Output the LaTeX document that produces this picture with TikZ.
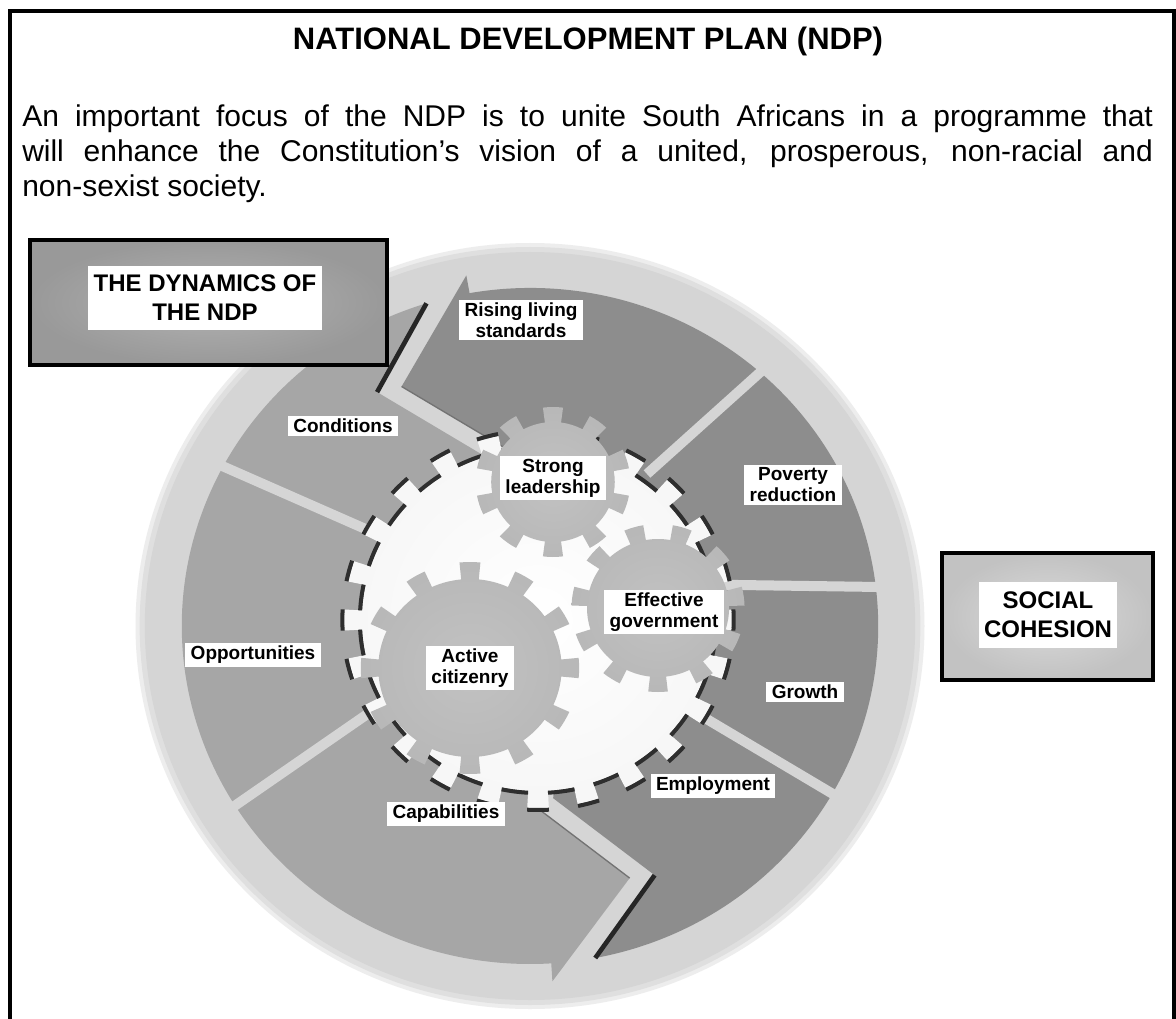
\documentclass[tikz,border=0pt]{standalone}
\usepackage{fontspec}
\setmainfont{Liberation Sans}
\definecolor{diskc}{HTML}{D5D5D5}
\definecolor{diskedge}{HTML}{DFDFDF}
\definecolor{diskglow}{HTML}{EDEDED}
\definecolor{darkseg}{HTML}{8D8D8D}
\definecolor{lightseg}{HTML}{A6A6A6}
\definecolor{shadowc}{HTML}{2E2E2E}
\pgfdeclareradialshading{bigshade}{\pgfpoint{0bp}{0bp}}{color(0bp)=(white); color(30bp)=(black!4); color(50bp)=(black!15)}
\pgfdeclareradialshading{smallshade}{\pgfpoint{0bp}{0bp}}{color(0bp)=(black!24); color(50bp)=(black!32)}
\newcommand{\gearpath}[5]{% root, tip, teeth, phase, half tooth angle
  ({#4-#5}:#1)
  \foreach \k in {1,...,#3}{
    -- ({#4+(\k-1)*360/#3-#5}:#2)
    arc[start angle={#4+(\k-1)*360/#3-#5}, end angle={#4+(\k-1)*360/#3+#5}, radius=#2]
    -- ({#4+(\k-1)*360/#3+#5}:#1)
    arc[start angle={#4+(\k-1)*360/#3+#5}, end angle={#4+\k*360/#3-#5}, radius=#1]
  } -- cycle}
\tikzset{
  para/.style={font=\fontsize{22.5pt}{27pt}\selectfont, inner sep=0pt, anchor=base west},
  seglabel/.style={fill=white, inner xsep=4pt, inner ysep=2pt, align=center,
    font=\fontsize{14.25pt}{15.75pt}\selectfont\bfseries},
  boxlabel/.style={fill=white, align=center, inner sep=0pt,
    font=\fontsize{18pt}{21.75pt}\selectfont\bfseries},
  sepline/.style={draw=diskc, line width=7.5pt},
  gshadow/.style={draw=shadowc, line width=3pt},
  notchshadow/.style={draw=black!85, line width=3.5pt},
  thinedge/.style={draw=black!55, line width=1pt},
  framebox/.style={draw=black, line width=3pt},
}
\begin{document}
\begin{tikzpicture}[x=0.75pt,y=-0.75pt]
\useasboundingbox (0,0) rectangle (1176,1019);
\fill[white] (0,0) rectangle (1176,1019);

% page frame
\draw[line width=3pt] (10,1019) -- (10,11) -- (1174,11) -- (1174,1019);

% heading and paragraph
\node[font=\fontsize{23.25pt}{28pt}\selectfont\bfseries, anchor=base, inner sep=0pt] (title) at (588,50) {NATIONAL DEVELOPMENT PLAN (NDP)};
\node[para] (p1) at (22,127) {\makebox[848pt][s]{An important focus of the NDP is to unite South Africans in a programme that}};
\node[para] (p2) at (22,162) {\makebox[848pt][s]{will enhance the Constitution's vision of a united, prosperous, non-racial and}};
\node[para] (p3) at (22,197) {non-sexist society.};

% ---------------- wheel ----------------
\def\tb{100}
\def\sb{-86.5}
\def\Rout{338}
\begin{scope}[shift={(530,626)}, xscale=1.03, yscale=-1]
  \fill[diskglow] (0,0) circle[radius=383];
  \fill[diskedge] (0,0) circle[radius=379];
  \fill[diskc] (0,0) circle[radius=374];
  % chevron points (top: dark head / Conditions notch; bottom: Capabilities head / Employment notch)
  \coordinate (tB) at (\tb:356);
  \coordinate (tT) at ({\tb+17.5}:270);
  \coordinate (tL) at ({270*cos(\tb+17.5)+115*cos(\tb-131.5)},{270*sin(\tb+17.5)+115*sin(\tb-131.5)});
  \coordinate (tO) at ({\tb+7.3}:\Rout);
  \coordinate (tV) at ({\tb+22.4}:277);
  \coordinate (tE) at ({277*cos(\tb+22.4)+125*cos(\tb-131.5)},{277*sin(\tb+22.4)+125*sin(\tb-131.5)});
  \coordinate (sB) at (\sb:356);
  \coordinate (sT) at ({\sb+17.5}:270);
  \coordinate (sL) at ({270*cos(\sb+17.5)+115*cos(\sb-131.5)},{270*sin(\sb+17.5)+115*sin(\sb-131.5)});
  \coordinate (sO) at ({\sb+7.3}:\Rout);
  \coordinate (sV) at ({\sb+22.4}:277);
  \coordinate (sE) at ({277*cos(\sb+22.4)+125*cos(\sb-131.5)},{277*sin(\sb+22.4)+125*sin(\sb-131.5)});
  % light arrow: Conditions -> Opportunities -> Capabilities
  \fill[lightseg] (tO) arc[start angle={\tb+7.3}, end angle={\sb+360}, radius=\Rout]
    -- (sB) -- (sT) -- (sL) -- ({\sb+351}:150)
    arc[start angle={\sb+351}, end angle={\tb+6}, radius=150]
    -- (tE) -- (tV) -- cycle;
  % dark arrow: Employment -> Growth -> Poverty reduction -> Rising living standards
  \fill[darkseg] (sO) arc[start angle={\sb+7.3}, end angle=\tb, radius=\Rout]
    -- (tB) -- (tT) -- (tL) -- ({\tb-9}:150)
    arc[start angle={\tb-9}, end angle={\sb+6}, radius=150]
    -- (sE) -- (sV) -- cycle;
\end{scope}

% separators between segments
\draw[sepline] (647,474) -- (785,350);
\draw[sepline] (668,584) -- (880,587);
\draw[sepline] (646,683) -- (843,800);
\draw[sepline] (436,560) -- (204,458);
\draw[sepline] (421,677) -- (220,816);

\begin{scope}[shift={(530,626)}, xscale=1.03, yscale=-1]
  % chevron shadows
  \draw[notchshadow] (tO) -- (tV);
  \draw[notchshadow] (sO) -- (sV);
  \draw[thinedge] (tT) -- (tL);
  \draw[thinedge] (sT) -- (sL);
  % big gear
  \begin{scope}[shift={(7.8,6)}]
    \shade[shading=bigshade] \gearpath{171}{188}{24}{0}{3.2};
    \foreach \k in {1,...,24}{
      \pgfmathsetmacro\ga{(\k-1)*15-3.2}
      \pgfmathsetmacro\gb{(\k-1)*15+3.2}
      \pgfmathsetmacro\gc{\k*15-3.2}
      \draw[gshadow] (\ga:190) arc[start angle=\ga, end angle=\gb, radius=190];
      \draw[gshadow] (\gb:173) arc[start angle=\gb, end angle=\gc, radius=173];
    }
  \end{scope}
  % small gears
  \begin{scope}[shift={(124.3,18)}]
    \shade[shading=smallshade] \gearpath{69}{84}{11}{-90}{6.5};
  \end{scope}
  \begin{scope}[shift={(22.3,144)}]
    \shade[shading=smallshade] \gearpath{60}{75}{10}{90}{7.5};
  \end{scope}
  \begin{scope}[shift={(-58.3,-42)}]
    \shade[shading=smallshade] \gearpath{89}{106}{12}{90}{5.5};
  \end{scope}
\end{scope}

% segment and gear labels
\node[seglabel] (lRising) at (521,320) {Rising living\\standards};
\node[seglabel] (lCond) at (343,426) {Conditions};
\node[seglabel] (lPov) at (793,485) {Poverty\\reduction};
\node[seglabel] (lOpp) at (253,655) {Opportunities};
\node[seglabel] (lGrowth) at (805,692) {Growth};
\node[seglabel] (lEmp) at (713,786) {Employment};
\node[seglabel] (lCap) at (446,814) {Capabilities};
\node[seglabel] (lStrong) at (553,478) {Strong\\leadership};
\node[seglabel] (lEff) at (664,612) {Effective\\government};
\node[seglabel] (lAct) at (470,668) {Active\\citizenry};

% side boxes
\shade[inner color=black!30, outer color=black!40] (30,240) rectangle (387,365);
\draw[framebox] (30,240) rectangle (387,365);
\node[boxlabel, minimum width=176pt, minimum height=48pt] (dyn) at (205,298) {THE DYNAMICS OF\\THE NDP};

\shade[inner color=black!14, outer color=black!24] (942,553) rectangle (1153,680);
\draw[framebox] (942,553) rectangle (1153,680);
\node[boxlabel, minimum width=104pt, minimum height=49pt] (soc) at (1048,615) {SOCIAL\\COHESION};
\end{tikzpicture}
\end{document}
